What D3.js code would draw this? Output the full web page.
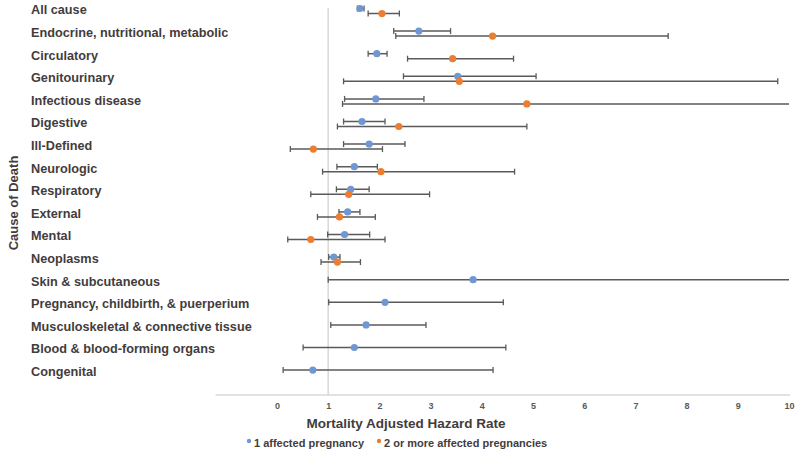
<!DOCTYPE html>
<html><head><meta charset="utf-8">
<script src="https://cdn.jsdelivr.net/npm/d3@7"></script>
<style>body{margin:0;background:#fff}svg{display:block}text{font-family:"Liberation Sans",Arial,sans-serif;font-weight:bold}</style>
</head><body>
<script>
const categories = ["All cause","Endocrine, nutritional, metabolic","Circulatory","Genitourinary","Infectious disease","Digestive","Ill-Defined","Neurologic","Respiratory","External","Mental","Neoplasms","Skin & subcutaneous","Pregnancy, childbirth, & puerperium","Musculoskeletal & connective tissue","Blood & blood-forming organs","Congenital"];
const oneEst  = [1.62,2.77,1.95,3.53,1.93,1.66,1.80,1.51,1.44,1.38,1.32,1.11,3.83,2.11,1.74,1.51,0.70];
const oneLow  = [1.57,2.28,1.78,2.47,1.32,1.30,1.30,1.17,1.16,1.21,0.99,1.01,1.00,1.01,1.05,0.51,0.12];
const oneHigh = [1.70,3.39,2.15,5.06,2.87,2.11,2.50,1.96,1.80,1.62,1.81,1.23,11.9,4.42,2.91,4.47,4.22];
const twoEst  = [2.05,4.21,3.43,3.56,4.88,2.38,0.71,2.03,1.40,1.22,0.66,1.18,null,null,null,null,null];
const twoLow  = [1.78,2.32,2.55,1.30,1.28,1.18,0.26,0.89,0.66,0.79,0.21,0.86,null,null,null,null,null];
const twoHigh = [2.39,7.64,4.62,9.78,13.0,4.88,2.06,4.64,2.98,1.92,2.11,1.63,null,null,null,null,null];
const xTicks = [0,1,2,3,4,5,6,7,8,9,10];
const seriesNames = ["1 affected pregnancy","2 or more affected pregnancies"];
const colors = ["#6f97d3","#ed7d31"];

const W=800,H=455;
const svg=d3.select("body").append("svg").attr("width",W).attr("height",H);
const x=d3.scaleLinear().domain([0,10]).range([277,789]);
const y=d3.scalePoint().domain(categories).range([10,371.6]);
const axisY=395, txt="#433c3c";

// gridlines / axes
svg.append("line").attr("x1",x(-1.2)).attr("x2",x(10)+1).attr("y1",axisY).attr("y2",axisY).attr("stroke","#d9d9d9").attr("stroke-width",1.3);
svg.append("line").attr("x1",x(1)).attr("x2",x(1)).attr("y1",8).attr("y2",axisY).attr("stroke","#d9d9d9").attr("stroke-width",1.5);

const xAxis=d3.axisBottom(x).tickValues(xTicks).tickSize(0).tickPadding(0).tickFormat(d3.format("d"));
const gx=svg.append("g").attr("transform",`translate(0,${axisY+8})`).call(xAxis);
gx.select(".domain").remove();
gx.selectAll("text").attr("font-size",9).attr("fill","#595959").attr("font-family","'Liberation Sans',Arial,sans-serif").attr("font-weight","bold");

// category labels
svg.append("g").selectAll("text").data(categories).join("text")
  .attr("x",31).attr("y",d=>y(d)).attr("dy","0.35em").attr("font-size",12.7).attr("fill",txt).text(d=>d);

svg.append("text").attr("transform","translate(13,203) rotate(-90)").attr("text-anchor","middle").attr("dy","0.35em")
  .attr("font-size",13).attr("fill",txt).text("Cause of Death");
svg.append("text").attr("x",406).attr("y",423).attr("dy","0.35em").attr("text-anchor","middle").attr("font-size",13.5).attr("fill",txt).text("Mortality Adjusted Hazard Rate");

function drawSeries(est,low,high,off,color){
  const rows=categories.map((c,i)=>({c,e:est[i],l:low[i],h:high[i]})).filter(d=>d.e!=null);
  const g=svg.append("g");
  const cap=3, maxV=10;
  rows.forEach(d=>{
    const yy=y(d.c)+off;
    const hi=Math.min(d.h,maxV);
    g.append("line").attr("x1",x(d.l)).attr("x2",x(hi)).attr("y1",yy).attr("y2",yy).attr("stroke","#5a5a5a").attr("stroke-width",1.5);
    g.append("line").attr("x1",x(d.l)).attr("x2",x(d.l)).attr("y1",yy-cap).attr("y2",yy+cap).attr("stroke","#5a5a5a").attr("stroke-width",1.3);
    if(d.h<=maxV) g.append("line").attr("x1",x(d.h)).attr("x2",x(d.h)).attr("y1",yy-cap).attr("y2",yy+cap).attr("stroke","#5a5a5a").attr("stroke-width",1.3);
  });
  return ()=>g.selectAll("circle.pt").data(rows).join("circle").attr("class","pt")
    .attr("cx",d=>x(d.e)).attr("cy",d=>y(d.c)+off).attr("r",3.6).attr("fill",color);
}
const d1=drawSeries(oneEst,oneLow,oneHigh,-1.5,colors[0]);
const d2=drawSeries(twoEst,twoLow,twoHigh,3.5,colors[1]);
d1(); d2();

// legend
const leg=[{n:seriesNames[0],c:colors[0],x:249},{n:seriesNames[1],c:colors[1],x:379}];
const lg=svg.append("g");
leg.forEach(l=>{
  lg.append("circle").attr("cx",l.x).attr("cy",441).attr("r",2.2).attr("fill",l.c);
  lg.append("text").attr("x",l.x+5).attr("y",443).attr("dy","0.35em").attr("font-size",11).attr("fill",txt).text(l.n);
});
</script>
</body></html>
